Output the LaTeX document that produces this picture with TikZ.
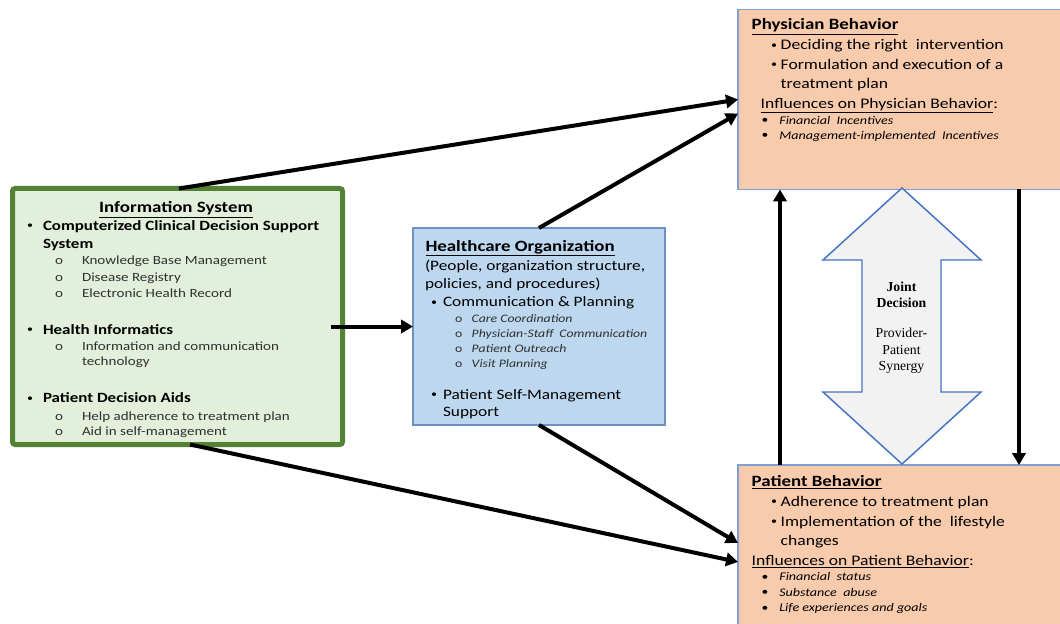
\documentclass[tikz,border=0pt]{standalone}
\usepackage{fontspec}
\setmainfont{Carlito}[FakeStretch=1.2]
\newfontfamily\jdserif{Liberation Serif}
\usetikzlibrary{arrows.meta,fit,calc}
\definecolor{isgreen}{HTML}{548235}
\definecolor{isfill}{HTML}{E2EFDA}
\definecolor{hofill}{HTML}{BDD7EE}
\definecolor{hoedge}{HTML}{6F8FC5}
\definecolor{bfill}{HTML}{F8CBAD}
\definecolor{bedge}{HTML}{7F9FD6}
\definecolor{jdedge}{HTML}{4472C4}
\definecolor{jdfill}{HTML}{F2F2F2}
\definecolor{subgray}{HTML}{303030}
\newcommand\fTitle{\fontsize{11.8pt}{14pt}\selectfont\bfseries}
\newcommand\fIsB{\fontsize{10.6pt}{13pt}\selectfont\bfseries}
\newcommand\fIsS{\fontsize{9.4pt}{11pt}\selectfont\color{subgray}}
\newcommand\fHo{\fontsize{10.8pt}{13pt}\selectfont}
\newcommand\fHoI{\fontsize{8.6pt}{10pt}\selectfont\itshape\color{subgray}}
\newcommand\fB{\fontsize{11pt}{13pt}\selectfont}
\newcommand\fBI{\fontsize{8.8pt}{10pt}\selectfont\itshape}
\newcommand\fJ{\fontsize{10.3pt}{12pt}\selectfont\jdserif}
\newcommand\bul[2]{\raisebox{#2}{\fontsize{#1}{#1}\selectfont\upshape •}}
\begin{document}
\begin{tikzpicture}[x=0.75pt,y=-0.75pt,
  tx/.style={anchor=base west,inner sep=0pt,outer sep=0pt},
  txc/.style={anchor=base,inner sep=0pt,outer sep=0pt},
  box/.style={inner sep=0pt,outer sep=0pt},
  conn/.style={line width=3pt,-{Triangle[length=9pt,width=10pt]}}]
\clip (0,0) rectangle (1060,624);
\fill[white] (0,0) rectangle (1060,624);
% boxes
\node[box,fit={(12.5,188.5) (342.5,444.5)},draw=isgreen,fill=isfill,line width=3.75pt,rounded corners=2pt] (IS) {};
\node[box,fit={(413,228) (665,425)},draw=hoedge,fill=hofill,line width=0.9pt] (HO) {};
\node[box,fit={(738,9.5) (1075,189.5)},draw=bedge,fill=bfill,line width=0.9pt] (PB) {};
\node[box,fit={(738,465) (1075,640)},draw=bedge,fill=bfill,line width=0.9pt] (PaB) {};
% joint decision double arrow
\draw[draw=jdedge,fill=jdfill,line width=1.1pt,line join=miter]
  (902,188) -- (981,260) -- (941,260) -- (941,392) -- (981,392) -- (902,464)
  -- (823,392) -- (862,392) -- (862,260) -- (823,260) -- cycle;
\node[txc] (jd1) at (901.5,291) {\fJ\bfseries Joint};
\node[txc] (jd2) at (901.5,307.7) {\fJ\bfseries Decision};
\node[txc] (jd3) at (901.5,337.7) {\fJ Provider-};
\node[txc] (jd4) at (901.5,354) {\fJ Patient};
\node[txc] (jd5) at (901.5,370) {\fJ Synergy};
% Information System text
\node[txc] (is0) at (176,212.7) {\fTitle\underline{Information System}};
\node[tx] (isb1) at (27,230) {\bul{7.5pt}{0.9pt}};
\node[tx] (is1) at (43,230) {\fIsB Computerized Clinical Decision Support};
\node[tx] (is2) at (43,248) {\fIsB System};
\node[tx] (iso1) at (55,264.3) {\fIsS o};
\node[tx] (is3) at (82,264.3) {\fIsS Knowledge Base Management};
\node[tx] (iso2) at (55,281.7) {\fIsS o};
\node[tx] (is4) at (82,281.7) {\fIsS Disease Registry};
\node[tx] (iso3) at (55,297.3) {\fIsS o};
\node[tx] (is5) at (82,297.3) {\fIsS Electronic Health Record};
\node[tx] (isb2) at (27,334) {\bul{7.5pt}{0.9pt}};
\node[tx] (is6) at (43,334) {\fIsB Health Informatics};
\node[tx] (iso4) at (55,350) {\fIsS o};
\node[tx] (is7) at (82,350) {\fIsS Information and communication};
\node[tx] (is8) at (82,365) {\fIsS technology};
\node[tx] (isb3) at (27,402.7) {\bul{7.5pt}{0.9pt}};
\node[tx] (is9) at (43,402.7) {\fIsB Patient Decision Aids};
\node[tx] (iso5) at (55,420) {\fIsS o};
\node[tx] (is10) at (82,420) {\fIsS Help adherence to treatment plan};
\node[tx] (iso6) at (55,435) {\fIsS o};
\node[tx] (is11) at (82,435) {\fIsS Aid in self-management};
% Healthcare Organization text
\node[tx] (ho0) at (425.5,251) {\fTitle\underline{Healthcare Organization}};
\node[tx] (ho1) at (425,270) {\fHo (People, organization structure,};
\node[tx] (ho2) at (425,288) {\fHo policies, and procedures)};
\node[tx] (hob1) at (431,306.7) {\bul{7.5pt}{0.9pt}};
\node[tx] (ho3) at (443,306.7) {\fHo Communication \& Planning};
\node[tx] (hoo1) at (455,322.3) {\fHoI\upshape o};
\node[tx] (ho4) at (471.7,322.3) {\fHoI Care Coordination};
\node[tx] (hoo2) at (455,337.7) {\fHoI\upshape o};
\node[tx] (ho5) at (471.7,337.7) {\fHoI Physician-Staff\ \ Communication};
\node[tx] (hoo3) at (455,352.7) {\fHoI\upshape o};
\node[tx] (ho6) at (471.7,352.7) {\fHoI Patient Outreach};
\node[tx] (hoo4) at (455,367.7) {\fHoI\upshape o};
\node[tx] (ho7) at (471.7,367.7) {\fHoI Visit Planning};
\node[tx] (hob2) at (431,399) {\bul{7.5pt}{0.9pt}};
\node[tx] (ho8) at (443,399) {\fHo Patient Self-Management};
\node[tx] (ho9) at (443,416.7) {\fHo Support};
% Physician Behavior text
\node[tx] (pb0) at (751.7,30) {\fTitle\underline{Physician Behavior}};
\node[tx] (pbb1) at (771.2,50) {\bul{7.5pt}{1.3pt}};
\node[tx] (pb1) at (780.7,50) {\fB Deciding the right\ \ intervention};
\node[tx] (pbb2) at (771.2,69.3) {\bul{7.5pt}{1.3pt}};
\node[tx] (pb2) at (780.7,69.3) {\fB Formulation and execution of a};
\node[tx] (pb3) at (780.7,88.3) {\fB treatment plan};
\node[tx] (pb4) at (760.7,108.3) {\fB\underline{Influences on Physician Behavior}:};
\node[tx] (pbi1) at (761.7,124.3) {\bul{8.5pt}{0.3pt}};
\node[tx] (pb5) at (779.3,124.3) {\fBI Financial\ \ Incentives};
\node[tx] (pbi2) at (761.7,139.3) {\bul{8.5pt}{0.3pt}};
\node[tx] (pb6) at (779.3,139.3) {\fBI Management-implemented\ \ Incentives};
% Patient Behavior text
\node[tx] (pa0) at (751.7,486.7) {\fTitle\underline{Patient Behavior}};
\node[tx] (pab1) at (771.2,506.7) {\bul{7.5pt}{1.3pt}};
\node[tx] (pa1) at (780.7,506.7) {\fB Adherence to treatment plan};
\node[tx] (pab2) at (771.2,526.7) {\bul{7.5pt}{1.3pt}};
\node[tx] (pa2) at (780.7,526.7) {\fB Implementation of the\ \ lifestyle};
\node[tx] (pa3) at (780.7,545) {\fB changes};
\node[tx] (pa4) at (751.7,565) {\fB\underline{Influences on Patient Behavior}:};
\node[tx] (pai1) at (761.7,580.7) {\bul{8.5pt}{0.3pt}};
\node[tx] (pa5) at (779.3,580.7) {\fBI Financial\ \ status};
\node[tx] (pai2) at (761.7,596) {\bul{8.5pt}{0.3pt}};
\node[tx] (pa6) at (779.3,596) {\fBI Substance\ \ abuse};
\node[tx] (pai3) at (761.7,611.7) {\bul{8.5pt}{0.3pt}};
\node[tx] (pa7) at (779.3,611.7) {\fBI Life experiences and goals};
% connectors
\draw[conn] ([xshift=1.1pt]IS.north) -- (PB.west);
\draw[conn] (HO.north) -- ([yshift=-10.5pt]PB.west);
\draw[conn] ([xshift=-8.5pt]IS.east |- HO.west) -- (HO.west);
\draw[conn] (HO.south) -- ([yshift=7.1pt]PaB.west);
\draw[conn] ([xshift=9.4pt]IS.south) -- ([yshift=-7.1pt]PaB.west);
\draw[conn] ($(PaB.north west)+(42,0)$) -- ($(PB.south west)+(42,0)$);
\draw[conn] ($(PB.south west)+(281,0)$) -- ($(PaB.north west)+(281,0)$);
\end{tikzpicture}
\end{document}
